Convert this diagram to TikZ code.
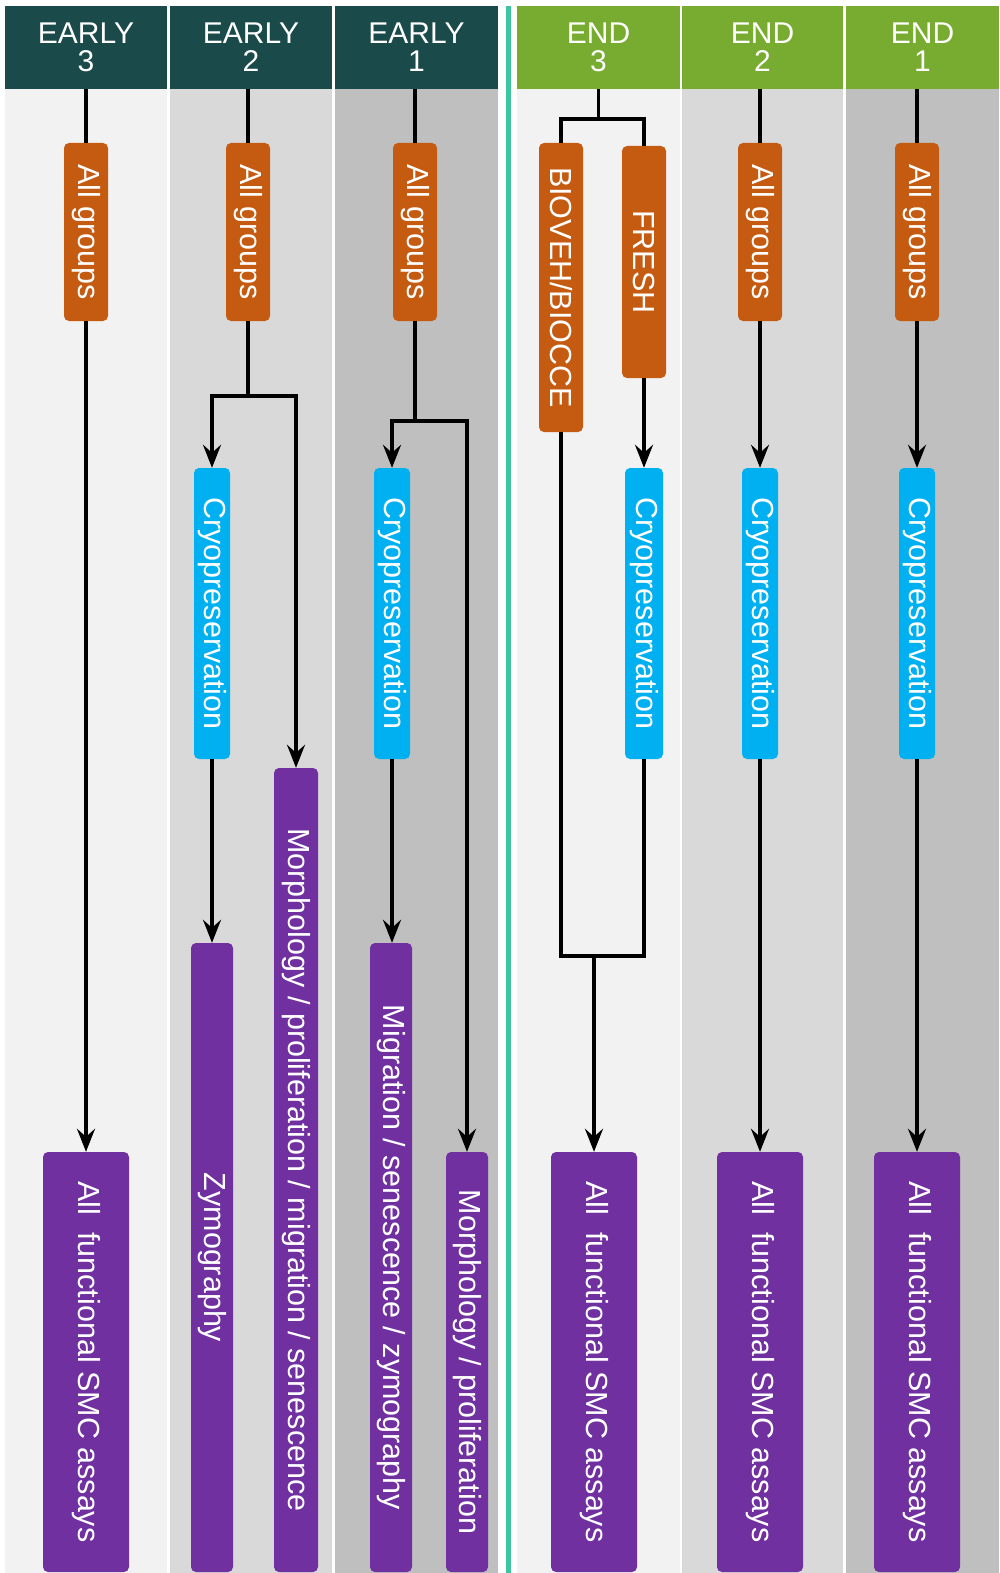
\documentclass[tikz,border=0pt]{standalone}
\usepackage{fontspec}
\setmainfont{Liberation Sans}
\usepackage{tikz}
\usetikzlibrary{arrows.meta}
\definecolor{earlyHead}{HTML}{1B4A4A}
\definecolor{endHead}{HTML}{77AC30}
\definecolor{laneA}{HTML}{F2F2F2}
\definecolor{laneB}{HTML}{D9D9D9}
\definecolor{laneC}{HTML}{BFBFBF}
\definecolor{divider}{HTML}{3CC59E}
\definecolor{grpOrange}{HTML}{C55A11}
\definecolor{cryoBlue}{HTML}{00B0F0}
\definecolor{assayPurple}{HTML}{7030A0}
\newcommand{\mBoxFont}{\fontsize{30.5}{36}\selectfont}
\newcommand{\mHeadFont}{\fontsize{30}{28}\selectfont}
\newcommand{\mLane}[6]{\fill[#3] (#4,89) rectangle (#5,1573);
  \node[head,fill=#2,minimum width={#5-#4}] (#1) at ({(#4+#5)/2},47.5) {#6}}
\newcommand{\mStage}[7]{\node[#2,minimum width={#5-#4},minimum height=#6] (#1) at (#3,{(#4+#5)/2}) {#7}}
\tikzset{
  head/.style={minimum height=83,inner sep=0pt,text=white,align=center,font=\mHeadFont},
  box/.style={rounded corners=5pt,inner sep=0pt,text=white,rotate=-90,font=\mBoxFont},
  grp/.style={box,fill=grpOrange},
  cryo/.style={box,fill=cryoBlue},
  assay/.style={box,fill=assayPurple},
  link/.style={line width=3.5pt},
  arr/.style={link,-{Stealth[length=23pt,width=18pt,inset=8pt]}}
}

\begin{document}
\begin{tikzpicture}[x=1pt,y=-1pt]
    \useasboundingbox (0,0) rectangle (999,1573);
    \mLane{e3}{earlyHead}{laneA}{5}{167}{EARLY\\3};
    \mLane{e2}{earlyHead}{laneB}{170}{332}{EARLY\\2};
    \mLane{e1}{earlyHead}{laneC}{335}{498}{EARLY\\1};
    \mLane{n3}{endHead}{laneA}{517}{680}{END\\3};
    \mLane{n2}{endHead}{laneB}{682}{843}{END\\2};
    \mLane{n1}{endHead}{laneC}{846}{999}{END\\1};
    \fill[divider] (506,6) rectangle (511,1573);
    % early 3
    \mStage{e3g}{grp}{86}{143}{321}{44}{All groups};
    \mStage{e3a}{assay}{86}{1152}{1572}{86}{All\ \ functional SMC assays};
    \draw[link] (e3g.west |- e3.south) -- (e3g.west);
    \draw[arr] (e3g.east) -- (e3a.west);
    % early 2
    \mStage{e2g}{grp}{248}{143}{321}{44}{All groups};
    \mStage{e2c}{cryo}{212}{468}{759}{36}{Cryopreservation};
    \mStage{e2z}{assay}{212}{943}{1572}{42}{Zymography};
    \mStage{e2m}{assay}{296}{768}{1572}{44}{Morphology / proliferation / migration / senescence};
    \draw[link] (e2g.west |- e2.south) -- (e2g.west);
    \draw[link] (e2g.east) -- ++(0,75) coordinate (e2j);
    \draw[arr] (e2j) -| (e2c.west);
    \draw[arr] (e2j) -| (e2m.west);
    \draw[arr] (e2c.east) -- (e2z.west);
    % early 1
    \mStage{e1g}{grp}{415}{143}{321}{44}{All groups};
    \mStage{e1c}{cryo}{392}{468}{759}{36}{Cryopreservation};
    \mStage{e1s}{assay}{391}{943}{1572}{42}{Migration / senescence / zymography};
    \mStage{e1m}{assay}{467}{1152}{1572}{42}{Morphology / proliferation};
    \draw[link] (e1g.west |- e1.south) -- (e1g.west);
    \draw[link] (e1g.east) -- ++(0,100) coordinate (e1j);
    \draw[arr] (e1j) -| (e1c.west);
    \draw[arr] (e1j) -| (e1m.west);
    \draw[arr] (e1c.east) -- (e1c.east |- e1s.west);
    % end 3
    \mStage{n3b}{grp}{561}{143}{432}{44}{BIOVEH/BIOCCE};
    \mStage{n3f}{grp}{644}{146}{378}{44}{FRESH};
    \mStage{n3c}{cryo}{644}{468}{759}{38}{Cryopreservation};
    \mStage{n3a}{assay}{594}{1152}{1572}{86}{All\ \ functional SMC assays};
    \draw[link] (n3.south) -- ++(0,30) coordinate (n3j);
    \draw[link] (n3j) -| (n3b.west);
    \draw[link] (n3j) -| (n3f.west);
    \draw[arr] (n3f.east) -- (n3c.west);
    \draw[link] (n3b.east) |- (n3c.east |- 0,956) -- (n3c.east);
    \coordinate (n3k) at (n3a.west |- 0,956);
    \draw[arr] (n3k) -- (n3a.west);
    % end 2
    \mStage{n2g}{grp}{760}{143}{321}{44}{All groups};
    \mStage{n2c}{cryo}{760}{468}{759}{36}{Cryopreservation};
    \mStage{n2a}{assay}{760}{1152}{1572}{86}{All\ \ functional SMC assays};
    \draw[link] (n2g.west |- n2.south) -- (n2g.west);
    \draw[arr] (n2g.east) -- (n2c.west);
    \draw[arr] (n2c.east) -- (n2a.west);
    % end 1
    \mStage{n1g}{grp}{917}{143}{321}{44}{All groups};
    \mStage{n1c}{cryo}{917}{468}{759}{36}{Cryopreservation};
    \mStage{n1a}{assay}{917}{1152}{1572}{86}{All\ \ functional SMC assays};
    \draw[link] (n1g.west |- n1.south) -- (n1g.west);
    \draw[arr] (n1g.east) -- (n1c.west);
    \draw[arr] (n1c.east) -- (n1a.west);
\end{tikzpicture}
\end{document}
